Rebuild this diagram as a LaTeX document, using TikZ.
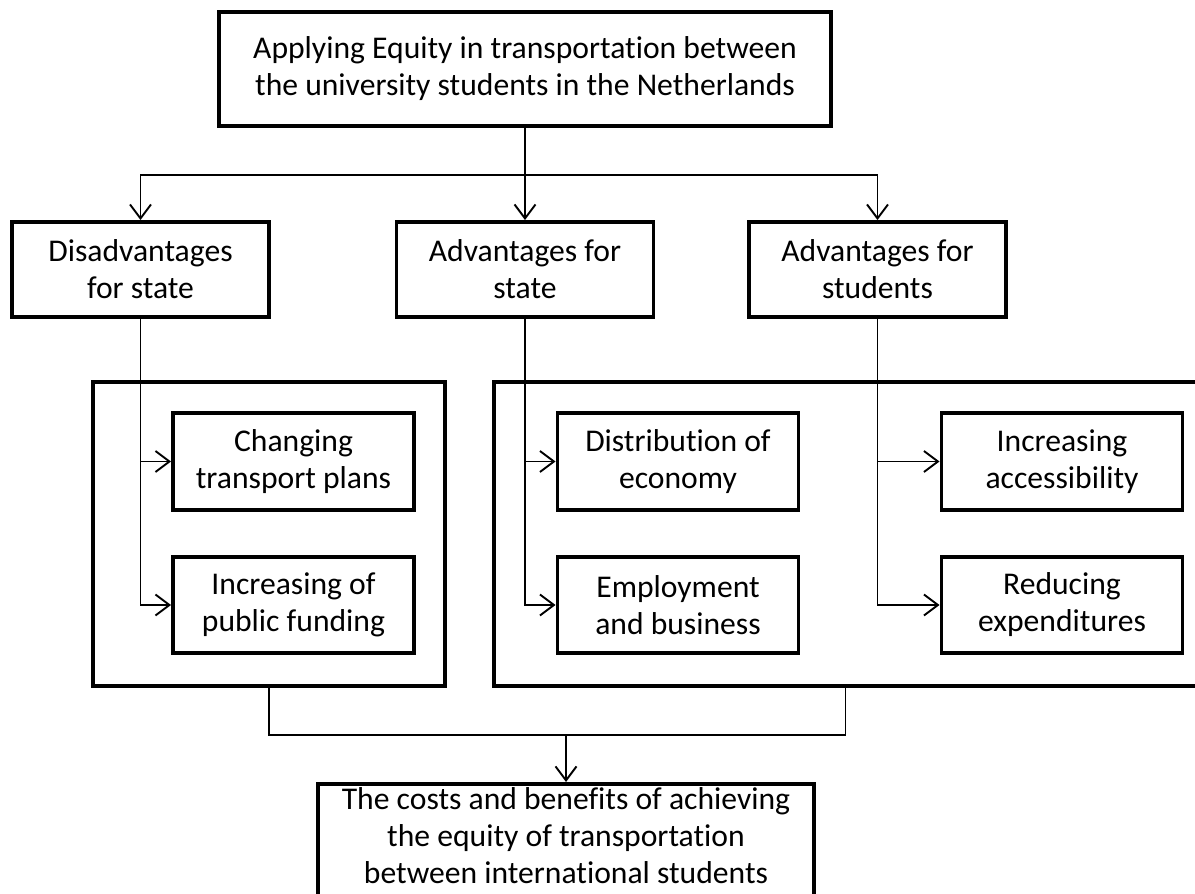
\documentclass[tikz,border=0pt]{standalone}
\usepackage{fontspec}
\setmainfont[Ligatures=NoCommon]{Carlito}
\usetikzlibrary{arrows.meta,positioning,calc}
\tikzset{
  stageBox/.style={draw, line width=2.2pt, align=center, inner sep=2pt, minimum width=5.14cm, minimum height=1.9cm, font=\fontsize{18}{21}\selectfont},
  itemBox/.style={stageBox, minimum width=4.82cm, minimum height=1.93cm},
  groupBox/.style={draw, line width=2pt, inner sep=0pt},
  flowArrow/.style={-{Straight Barb[length=2.8mm,width=4.2mm]}, line width=1.1pt},
  flowLine/.style={line width=1.1pt}
}

\begin{document}
\begin{tikzpicture}[x=1cm,y=1cm]
  \clip (0,0) rectangle (23.9,17.86);
  % aim and the three sides
  \node[stageBox, minimum width=12.24cm, minimum height=2.28cm] (aim) at (10.5,16.48) {Applying Equity in transportation between\\the university students in the Netherlands};
  \node[stageBox] (disState) at (2.81,12.47) {Disadvantages\\for state};
  \node[stageBox] (advState) at (10.5,12.47) {Advantages for\\state};
  \node[stageBox] (advStud) at (17.55,12.47) {Advantages for\\students};
  % group frames
  \node[groupBox, minimum width=7.04cm, minimum height=6.08cm] (grpCost) at (5.38,7.18) {};
  \node[groupBox, minimum width=14.06cm, minimum height=6.08cm] (grpGain) at (16.91,7.18) {};
  % items
  \node[itemBox] (plans) at (5.87,8.63) {Changing\\transport plans};
  \node[itemBox] (funding) at (5.87,5.76) {Increasing of\\public funding};
  \node[itemBox] (economy) at (13.56,8.63) {Distribution of\\economy};
  \node[itemBox] (jobs) at (13.56,5.76) {Employment\\and business};
  \node[itemBox] (access) at (21.24,8.63) {Increasing\\accessibility};
  \node[itemBox] (spend) at (21.24,5.76) {Reducing\\expenditures};
  % result
  \node[stageBox, anchor=north, minimum width=9.92cm, minimum height=0cm, text depth=0.7cm] (result) at (11.32,2.22) {The costs and benefits of achieving\\the equity of transportation\\between international students};

  \draw[flowArrow] (aim.south) -- ++(0,-0.94) -| (disState.north);
  \draw[flowArrow] (aim.south) -- ++(0,-0.94) -| (advStud.north);
  \draw[flowArrow] (aim.south) -- (advState.north);
  \draw[flowArrow] (disState.south) |- (plans.west);
  \draw[flowArrow] (disState.south) |- (funding.west);
  \draw[flowArrow] (advState.south) |- (economy.west);
  \draw[flowArrow] (advState.south) |- (jobs.west);
  \draw[flowArrow] (advStud.south) |- (access.west);
  \draw[flowArrow] (advStud.south) |- (spend.west);
  \coordinate (merge) at ($(grpCost.south)+(0,-0.94)$);
  \draw[flowLine] (grpCost.south) -- (merge) -| (grpGain.south);
  \draw[flowArrow] (merge -| result.north) -- (result.north);
\end{tikzpicture}
\end{document}
